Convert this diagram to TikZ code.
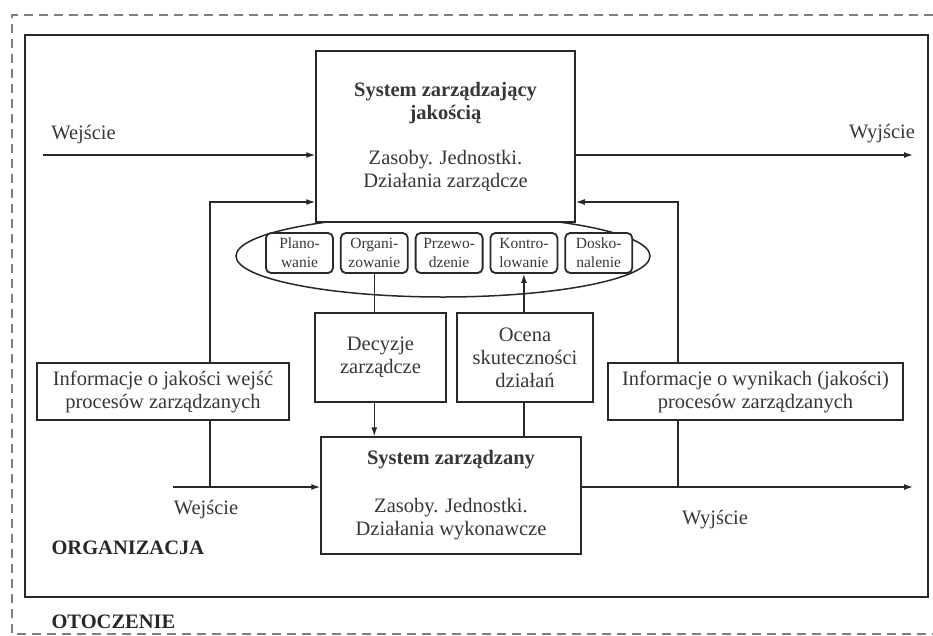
\documentclass[tikz,border=0pt]{standalone}
\usepackage{fontspec}
\setmainfont{Liberation Serif}
\usepackage{tikz}
\usetikzlibrary{positioning, arrows.meta, shapes.geometric}
\definecolor{ink}{RGB}{40,40,40}
\definecolor{txt}{RGB}{55,55,55}

\begin{document}
\begin{tikzpicture}[
  x=1pt, y=-1pt,
  >={Latex[length=9pt,width=6pt]},
  box/.style={draw=ink, line width=1.5pt, fill=white, inner sep=0pt,
              align=center, text=txt, font=\fontsize{20.5}{23}\selectfont},
  fn/.style={draw=ink, line width=1.8pt, rounded corners=5pt, fill=white,
             minimum width=67pt, minimum height=40pt, inner sep=0pt,
             align=center, text=txt, font=\fontsize{15.5}{19}\selectfont},
  arr/.style={->, line width=1.3pt, ink},
  conn/.style={line width=1.3pt, ink},
  lbl/.style={text=txt, font=\fontsize{20.5}{23}\selectfont},
  area/.style={text=ink, anchor=west, font=\fontsize{20.5}{23}\selectfont\bfseries},
]
\useasboundingbox (0,0) rectangle (933,635);

\draw[gray, line width=1.5pt, dash pattern=on 9pt off 6pt] (933,15) -- (12,15) -- (12,634) -- (933,634);
\draw[ink, line width=1.6pt] (25,35) rectangle (928,597);

\node[ellipse, draw=ink, line width=1.5pt, minimum width=414pt, minimum height=82pt, inner sep=0pt] (funkcje) at (443,256) {};
\node[box, minimum width=259pt, minimum height=171pt] (zarzadzajacy) at (445.5,136.5)
  {\textbf{System zarządzający}\\\textbf{jakością}\\[22pt]Zasoby. Jednostki.\\Działania zarządcze};

\node[fn] (plan) at (299.5,253) {Plano-\\wanie};
\node[fn, right=6pt of plan] (organ) {Organi-\\zowanie};
\node[fn, right=6pt of organ] (przew) {Przewo-\\dzenie};
\node[fn, right=6pt of przew] (kontr) {Kontro-\\lowanie};
\node[fn, right=6pt of kontr] (dosk) {Dosko-\\nalenie};

\node[box, minimum width=131pt, minimum height=89pt] (decyzje) at (380.5,357.5) {Decyzje\\zarządcze};
\node[box, minimum width=136pt, minimum height=89pt] (ocena) at (525,357.5) {Ocena\\skuteczności\\działań};
\node[box, minimum width=260pt, minimum height=117pt] (zarzadzany) at (451,495.5)
  {\textbf{System zarządzany}\\[25pt]Zasoby. Jednostki.\\Działania wykonawcze};
\node[box, minimum width=252pt, minimum height=57pt] (infoL) at (163,391.5)
  {Informacje o jakości wejść\\procesów zarządzanych};
\node[box, minimum width=295pt, minimum height=57pt] (infoR) at (755.5,391.5)
  {Informacje o wynikach (jakości)\\procesów zarządzanych};

\coordinate (inT) at (43,155);
\coordinate (outT) at (913,155);
\coordinate (inB) at (173,487);
\coordinate (outB) at (913,487);
\coordinate (fbL) at (210,202);
\coordinate (fbR) at (678,202);

\draw[arr] (inT) -- (inT -| zarzadzajacy.west);
\draw[arr] (zarzadzajacy.east |- outT) -- (outT);
\draw[arr] (inB) -- (inB -| zarzadzany.west);
\draw[arr] (zarzadzany.east |- outB) -- (outB);
\draw[conn] (fbL |- inB) -- (fbL |- infoL.south);
\draw[arr] (fbL |- infoL.north) -- (fbL) -- (fbL -| zarzadzajacy.west);
\draw[conn] (fbR |- outB) -- (fbR |- infoR.south);
\draw[arr] (fbR |- infoR.north) -- (fbR) -- (fbR -| zarzadzajacy.east);
\draw[conn] (organ.south) -- (organ.south |- decyzje.north);
\draw[arr] (organ.south |- decyzje.south) -- (organ.south |- zarzadzany.north);
\draw[arr] (kontr.south |- ocena.north) -- (kontr.south);
\draw[conn] (kontr.south |- ocena.south) -- (kontr.south |- zarzadzany.north);

\node[lbl] (weT) at (83.5,135) {Wejście};
\node[lbl] (wyT) at (882,134) {Wyjście};
\node[lbl] (weB) at (206,510) {Wejście};
\node[lbl] (wyB) at (715,520) {Wyjście};
\node[area] (org) at (48,548) {ORGANIZACJA};
\node[area] (oto) at (48,622) {OTOCZENIE};

\end{tikzpicture}
\end{document}
